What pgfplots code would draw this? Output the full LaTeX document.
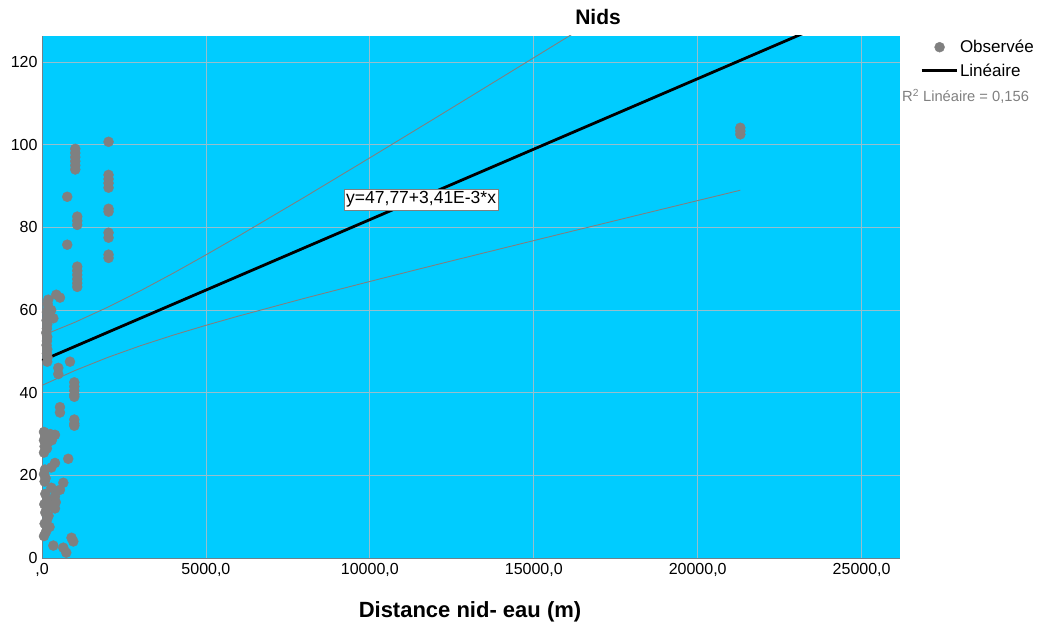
\documentclass[border=0pt]{standalone}
\usepackage{fontspec}
\setmainfont{Liberation Sans}
\usepackage{pgfplots}
\pgfplotsset{compat=1.18}
\definecolor{bg}{RGB}{0,204,255}
\definecolor{gridc}{RGB}{150,190,205}
\definecolor{ptc}{RGB}{128,128,128}
\definecolor{axc}{RGB}{110,130,140}
\begin{document}
\begin{tikzpicture}
\begin{axis}[
  at={(0,0)}, anchor=south west,
  scale only axis, width=858pt, height=522pt,
  xmin=0, xmax=26170, ymin=0, ymax=126.3,
  axis background/.style={fill=bg},
  axis x line*=bottom, axis y line*=left,
  axis line style={axc, line width=0.8pt},
  grid=major, major grid style={gridc, line width=0.8pt},
  major tick length=0pt,
  scaled x ticks=false, scaled y ticks=false,
  xtick={0,5000,10000,15000,20000,25000},
  xticklabels={{,0},{5000,0},{10000,0},{15000,0},{20000,0},{25000,0}},
  ytick={0,20,40,60,80,100,120},
  tick label style={font=\fontsize{16}{19}\selectfont},
  /pgf/number format/assume math mode=true,
  xticklabel style={yshift=-2pt},
  yticklabel style={xshift=-1pt},
  legend cell align=left,
  legend style={at={(1,1)}, anchor=north west, xshift=20pt, yshift=-2pt,
    draw=none, fill=none, font=\fontsize{17}{20}\selectfont, inner sep=0pt,
    row sep=5.5pt},
]
\addplot[only marks, mark=*, mark size=5pt, color=ptc, mark options={draw=ptc, fill=ptc},
  legend image code/.code={\fill[ptc] (18pt,0) circle (5pt); \path (0,0) (35pt,0);}]
coordinates {
(190,62.5) (170,61.5) (200,60.5) (150,59.5) (180,58.5) (140,57.5) (160,56.5) (150,55.5)
(130,54.5) (160,53.5) (150,52.5) (140,51.5) (160,50.5) (150,49.5) (170,48.5) (160,47.5)
(345,58) (436,63.7) (548,63) (280,60)
(497,46) (497,44.5) (853,47.5)
(985,42.5) (985,41.5) (985,40.5) (985,39.5) (985,39) (985,33.5) (985,32.5) (985,32)
(548,36.5) (548,35.2)
(60,30.5) (100,29.5) (250,30) (60,28.5) (180,28) (80,27) (150,26.5) (60,25.5) (396,29.8) (300,28.5)
(800,24) (396,23) (285,21.9) (90,21.4) (60,20.3) (110,19.3) (80,18.5) (650,18.2) (285,17) (548,16.5)
(396,14.9) (420,13.5) (396,12) (100,11) (200,10.2) (150,9.2) (80,8.3) (230,7.5) (120,6.3) (60,5.3)
(100,15.5) (150,14) (70,13) (200,12.5)
(900,4.9) (955,4) (345,3) (650,2.5) (740,1.3)
(1015,99) (1015,98) (1015,97) (1015,96) (1015,95) (1015,94)
(2030,100.7) (2030,92.7) (2030,91.7) (2030,90.7) (2030,89.6) (2030,84.5) (2030,83.8)
(2030,78.7) (2030,77.5) (2030,73.4) (2030,72.6)
(770,87.4) (770,75.8)
(1075,82.6) (1075,81.6) (1075,80.6)
(1075,70.5) (1075,69.5) (1075,68.5) (1075,67.5) (1075,66.5) (1075,65.6)
(21300,104.1) (21300,103.3) (21300,102.5)
};
\addlegendentry{Observée}
\addplot[ptc, line width=0.9pt, forget plot] coordinates {
(0,53.77) (1000,57.02) (2000,60.66) (3000,64.65) (4000,68.90) (5000,73.34) (6000,77.91)
(8000,87.28) (10000,96.83) (12000,106.47) (14000,116.18) (16000,125.91) (18000,135.68)
(20000,145.46) (21300,151.82)};
\addplot[ptc, line width=0.9pt, forget plot] coordinates {
(0,41.77) (1000,45.34) (2000,48.52) (3000,51.35) (4000,53.92) (5000,56.30) (6000,58.55)
(8000,62.82) (10000,66.91) (12000,70.91) (14000,74.84) (16000,78.75) (18000,82.62)
(20000,86.48) (21300,88.98)};
\addplot[black, line width=2.8pt,
  legend image code/.code={\draw[black, line width=2.8pt] (0,0) -- (35pt,0);}]
coordinates {(0,47.77) (26170,137.01)};
\addlegendentry{Linéaire}
\node[draw=ptc, fill=white, font=\fontsize{17.5}{20}\selectfont, inner sep=2.5pt]
  at (axis cs:11564,86.7) {y=47,77+3,41E-3*x};
\end{axis}
\node[font=\bfseries\fontsize{21}{24}\selectfont, anchor=base] at (556pt,533pt) {Nids};
\node[font=\bfseries\fontsize{22}{26}\selectfont, anchor=base] at (428pt,-59pt) {Distance nid- eau (m)};
\node[text=ptc, anchor=west, inner sep=0pt, font=\fontsize{14.7}{17}\selectfont] at (860pt,462pt) {R\textsuperscript{2} Linéaire = 0,156};
\pgfresetboundingbox
\path[use as bounding box] (-42pt,-66pt) rectangle (999pt,558pt);
\end{tikzpicture}
\end{document}
